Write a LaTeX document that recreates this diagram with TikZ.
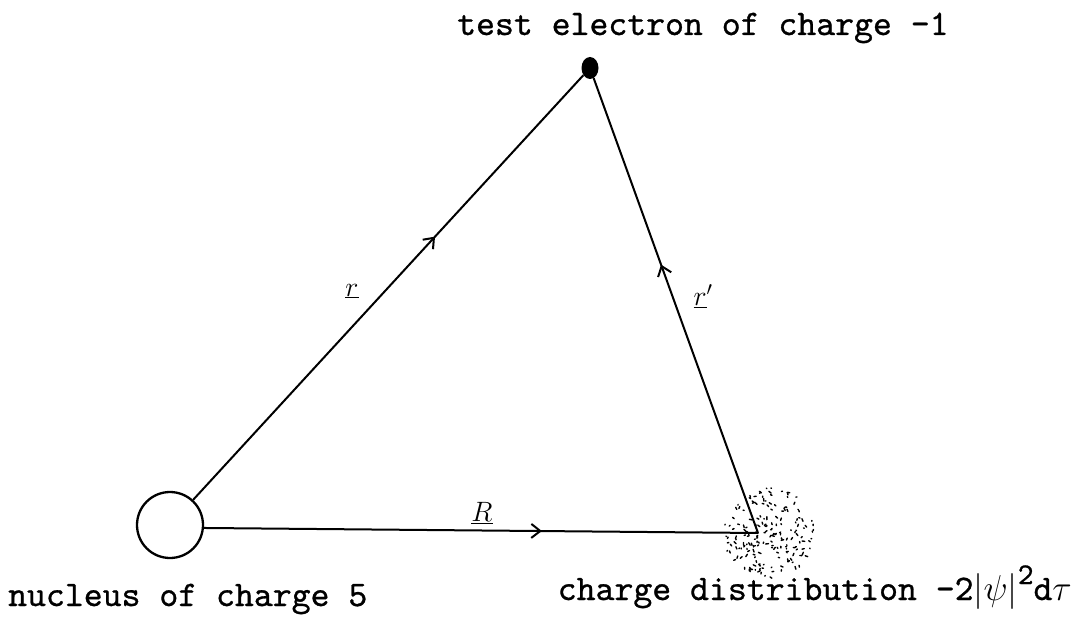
\RequirePackage{fix-cm}
\documentclass[tikz,border=0pt]{standalone}
\usepackage{fontspec}
\newfontfamily\twfont[FakeBold=0.8]{lmmono10-regular.otf}
\usetikzlibrary{arrows.meta,decorations.markings,shapes.geometric}
\begin{document}
\begin{tikzpicture}[x=1pt,y=-1pt,
  wire/.style={line width=2pt},
  midarrow/.style={postaction={decorate},decoration={markings,mark=at position #1 with {\arrow{Straight Barb[length=9pt,width=14pt,line width=2pt]}}}},
  lbl/.style={font=\fontsize{36}{40}\selectfont\twfont, inner sep=0pt},
  vec/.style={font=\fontsize{28}{32}\selectfont, inner sep=0pt},
  speck/.style={line width=1.4pt, line cap=round}]
\useasboundingbox (0,0) rectangle (1073,620);
% cloud of charge
\pgfmathsetseed{42}
\foreach \i in {1,...,190}{
  \pgfmathsetmacro{\rr}{45*sqrt(rnd)}
  \pgfmathsetmacro{\aa}{360*rnd}
  \pgfmathsetmacro{\dd}{360*rnd}
  \pgfmathsetmacro{\ll}{0.5+2.5*rnd}
  \draw[speck] ({769+\rr*cos(\aa)},{533+\rr*sin(\aa)}) -- ++({\ll*cos(\dd)},{\ll*sin(\dd)});
}
\node[ellipse, fill=black, minimum width=17pt, minimum height=22pt, inner sep=0pt] (el) at (590,68) {};
\node[circle, draw, line width=2.3pt, minimum size=66pt, inner sep=0pt] (nuc) at (170,525) {};
\coordinate (cd) at (758,533);
\draw[wire, midarrow=0.62] (nuc) -- (el);
\draw[wire, midarrow=0.61] (nuc.-5) -- (cd);
\draw[wire, midarrow=0.59] (cd) -- (el);
\node[vec] (lr) at (352,291) {$\underline{r}$};
\node[vec] (lR) at (482,513) {$\underline{R}$};
\node[vec] (lrp) at (703,296) {$\underline{r}'$};
\node[lbl, anchor=base west] (t1) at (457,35) {test electron of charge -1};
\node[lbl, anchor=base west] (t2) at (8,606) {nucleus of charge 5};
\node[lbl, anchor=base east] (t3) at (1072,600) {charge distribution -2$|\psi|$\raisebox{16pt}{\fontsize{30}{32}\selectfont 2}d$\tau$};
\end{tikzpicture}
\end{document}
